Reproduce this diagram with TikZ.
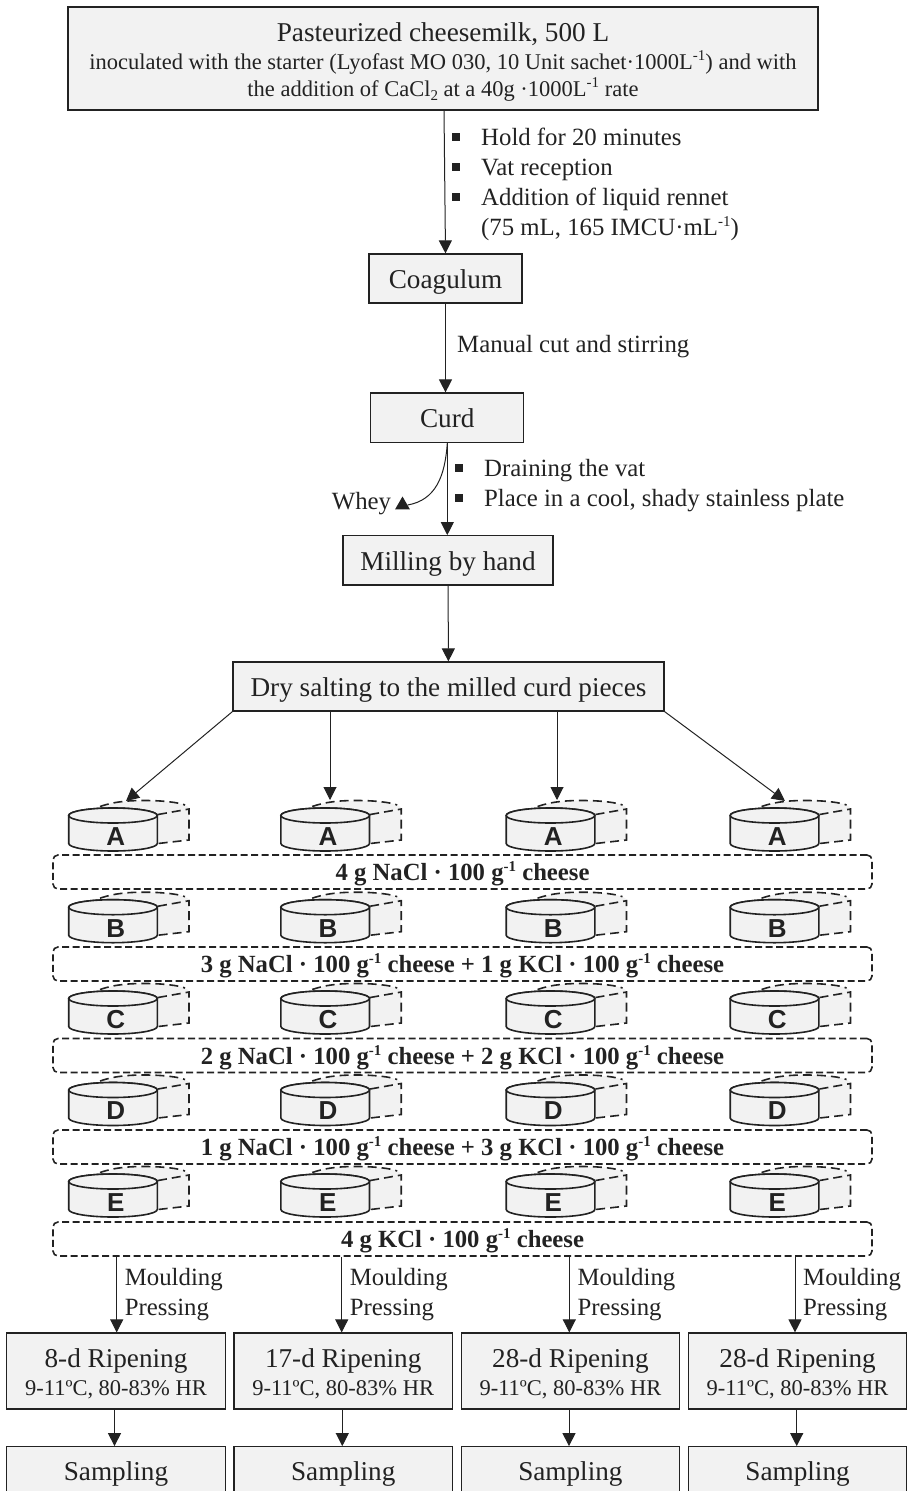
\documentclass[tikz,border=0pt]{standalone}
\usepackage{fontspec}
\setmainfont{Liberation Serif}
\setsansfont{Liberation Sans}
\usepackage{xcolor}
\usetikzlibrary{arrows.meta,positioning,shapes.geometric}
\definecolor{boxgray}{HTML}{F2F2F2}
\definecolor{inkgray}{HTML}{222222}
\newcommand{\sqbul}{\rule[4.5pt]{8pt}{8pt}}
\newcommand{\subtwo}{\raisebox{-4pt}{\fontsize{15}{15}\selectfont 2}}
\newcommand{\supminus}{\raisebox{9pt}{\fontsize{15}{15}\selectfont -1}}
\newcommand{\tallline}{\rule{0pt}{25pt}}
\newcommand{\smalltext}[1]{{\fontsize{22.5}{28}\selectfont #1}}
\tikzset{
	procbox/.style={draw=inkgray,fill=boxgray,line width=1.2pt,align=center,text=inkgray,inner sep=0pt,font=\fontsize{27.2}{28}\selectfont},
	singleline/.style={procbox,text height=20pt,text depth=0pt},
	ripebox/.style={procbox,minimum width=218.5pt,minimum height=76pt},
	sampbox/.style={singleline,text height=17pt,minimum width=218.5pt,minimum height=50pt},
	saltbar/.style={draw=inkgray,line width=1.6pt,dash pattern=on 7pt off 3.5pt,rounded corners=5pt,minimum width=819pt,minimum height=34pt,inner sep=0pt,text=inkgray,text height=17pt,text depth=0pt,font=\fontsize{24.7}{26}\selectfont\bfseries},
	flowline/.style={draw=inkgray,line width=1pt},
	flow/.style={flowline,-{Triangle[length=13pt,width=13pt]}},
	steptext/.style={align=left,text=inkgray,inner sep=0pt,anchor=north west,font=\fontsize{24.8}{30}\selectfont},
	cheesesolid/.style={draw=inkgray,fill=boxgray,line width=1.6pt},
	cheesedash/.style={draw=inkgray,line width=1.6pt,dash pattern=on 9pt off 5pt},
	cheeseletter/.style={inner sep=0pt,text=inkgray,font=\fontsize{26}{26}\selectfont\sffamily\bfseries}
}
\begin{document}
\begin{tikzpicture}[x=1pt,y=-1pt]
	
	\useasboundingbox (0,0) rectangle (910,1491);
	
	\node[
	procbox,
	minimum width=750pt,
	minimum height=103pt
	] (milk) at (443,58.5)
	{\tallline Pasteurized cheesemilk, 500 L\\
		\smalltext{inoculated with the starter (Lyofast MO 030, 10 Unit sachet·1000L\supminus) and with}\\[-1pt]
		\smalltext{the addition of CaCl\subtwo{} at a 40g ·1000L\supminus{} rate}};
	
	\node[
	singleline,
	minimum width=153pt,
	minimum height=49pt
	] (coag) at (445.5,278.5)
	{Coagulum};
	
	\node[
	singleline,
	minimum width=153pt,
	minimum height=49.5pt,
	below=88.8pt of coag,
	xshift=1.8pt
	] (curd)
	{Curd};
	
	\node[
	singleline,
	minimum width=210pt,
	minimum height=49.3pt,
	below=92pt of curd,
	xshift=0.7pt
	] (mill)
	{Milling by hand};
	
	\node[
	singleline,
	minimum width=431pt,
	minimum height=49pt,
	below=75.8pt of mill,
	xshift=0.5pt
	] (salt)
	{Dry salting to the milled curd pieces};
	
	\foreach \lett/\cy in {A/815.5,B/907.2,C/998.5,D/1090,E/1181.5}{
		\foreach \cx [count=\c] in {113,325.2,550.5,774.5}{
			\fill[boxgray] (\cx+32,\cy-7) ellipse (44 and 8);
			\fill[boxgray] (\cx+32,\cy-7) -- (\cx+76,\cy-7) -- (\cx+76,\cy+24) -- (\cx+32,\cy+29) -- cycle;
			\draw[cheesedash] (\cx-13,\cy-9) .. controls (\cx+3,\cy-14.5) and (\cx+18,\cy-15) .. (\cx+32,\cy-15) .. controls (\cx+50,\cy-15) and (\cx+66,\cy-13) .. (\cx+72,\cy-10.5);
			\draw[cheesedash] (\cx+45,\cy-1) -- (\cx+76,\cy-6.5) -- (\cx+76,\cy+24.5) -- (\cx+45,\cy+28);
			\draw[cheesesolid] (\cx-44.3,\cy) -- (\cx-44.3,\cy+28) arc[start angle=180,end angle=0,x radius=44.3,y radius=7.5] -- (\cx+44.3,\cy) arc[start angle=0,end angle=-180,x radius=44.3,y radius=7.5] -- cycle;
			\draw[cheesesolid] (\cx,\cy) ellipse (44.3 and 7.5);
			\node[cheeseletter] (cheese\lett\c) at (\cx+2.7,\cy+21) {\lett};
		}
	}
	
	\node[saltbar] (barA) at (462.5,872) {4 g NaCl · 100 g\supminus{} cheese};
	\node[saltbar] (barB) at (462.5,964) {3 g NaCl · 100 g\supminus{} cheese + 1 g KCl · 100 g\supminus{} cheese};
	\node[saltbar] (barC) at (462.5,1055.5) {2 g NaCl · 100 g\supminus{} cheese + 2 g KCl · 100 g\supminus{} cheese};
	\node[saltbar] (barD) at (462.5,1147) {1 g NaCl · 100 g\supminus{} cheese + 3 g KCl · 100 g\supminus{} cheese};
	\node[saltbar] (barE) at (462.5,1239) {4 g KCl · 100 g\supminus{} cheese};
	
	\node[
	ripebox
	] (ripeA) at (116,1371)
	{\tallline 8-d Ripening\\
		\smalltext{9-11ºC, 80-83\% HR}};
	\node[ripebox,right=7.5pt of ripeA] (ripeB)
	{\tallline 17-d Ripening\\
		\smalltext{9-11ºC, 80-83\% HR}};
	\node[ripebox,right=7.5pt of ripeB] (ripeC)
	{\tallline 28-d Ripening\\
		\smalltext{9-11ºC, 80-83\% HR}};
	\node[ripebox,right=7.5pt of ripeC] (ripeD)
	{\tallline 28-d Ripening\\
		\smalltext{9-11ºC, 80-83\% HR}};
	
	\node[sampbox,below=36.5pt of ripeA] (sampA) {Sampling};
	\node[sampbox,below=36.5pt of ripeB] (sampB) {Sampling};
	\node[sampbox,below=36.5pt of ripeC] (sampC) {Sampling};
	\node[sampbox,below=36.5pt of ripeD] (sampD) {Sampling};
	
	\node[steptext] (stepone) at (452,127.5)
	{\sqbul\hspace{21pt}Hold for 20 minutes\\
		\sqbul\hspace{21pt}Vat reception\\
		\sqbul\hspace{21pt}Addition of liquid rennet\\
		\hspace{29pt}(75 mL, 165 IMCU·mL\supminus)};
	\node[steptext] (steptwo) at (457,335.5) {Manual cut and stirring};
	\node[steptext] (stepthree) at (455,459)
	{\sqbul\hspace{21pt}Draining the vat\\
		\sqbul\hspace{21pt}Place in a cool, shady stainless plate};
	\node[steptext] (whey) at (331.7,492.5) {Whey};
	
	\node[
	regular polygon,
	regular polygon sides=3,
	fill=inkgray,
	inner sep=0pt,
	minimum size=17pt
	] (wheytip) at (402.5,505) {};
	
	\coordinate (milkout) at (444,110);
	\coordinate (inA) at (126,801);
	\coordinate (inB) at (330,800);
	\coordinate (inC) at (557,800);
	\coordinate (inD) at (785,801);
	
	\draw[flow] (milkout) -- (coag.north);
	\draw[flow] (coag.south) -- (coag.south |- curd.north);
	\draw[flow] (curd) -- (curd |- mill.north);
	\draw[flowline] (curd.south) .. controls (445,476) and (436,500) .. (wheytip.east);
	\draw[flow] (mill) -- (salt);
	\draw[flow] (salt.south west) -- (inA);
	\draw[flow] (salt.south -| inB) -- (inB);
	\draw[flow] (salt.south -| inC) -- (inC);
	\draw[flow] (salt.south east) -- (inD);
	
	\foreach \lab/\nudge/\low in {A/0.7/-1.5,B/-1.5/-0.9,C/-1.1/-1.4,D/-2.6/-0.9}{
		\draw[flow] ([xshift=\nudge pt]ripe\lab.north |- barE.south) -- ([xshift=\nudge pt]ripe\lab.north);
		\draw[flow] ([xshift=\low pt]ripe\lab.south) -- ([xshift=\low pt]samp\lab.north);
		\node[steptext] (mould\lab) at ([xshift=\nudge pt+8pt,yshift=-11.5pt]ripe\lab.north |- barE.south) {Moulding\\Pressing};
	}
	
\end{tikzpicture}
\end{document}
